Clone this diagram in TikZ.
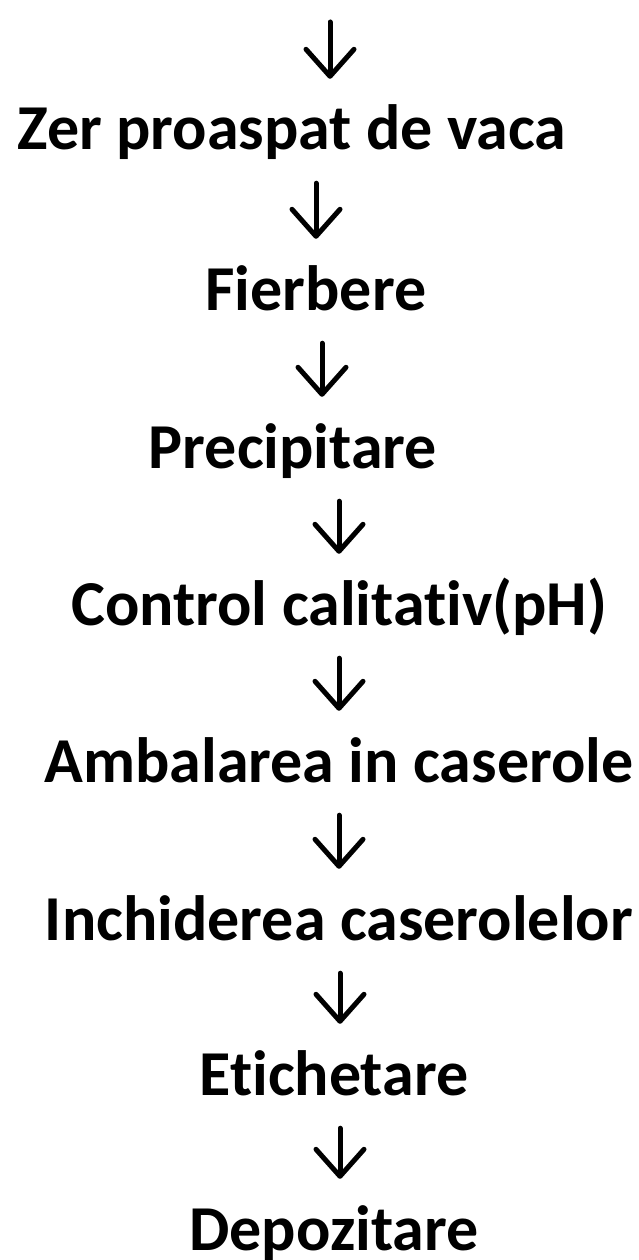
\documentclass[tikz,border=0pt]{standalone}
\usepackage{fontspec}
\setmainfont{Carlito}[RawFeature={-liga}]
\usepackage{tikz}
\usetikzlibrary{arrows.meta, positioning}

\begin{document}
\begin{tikzpicture}[
  x=1pt, y=1pt,
  stepbox/.style={anchor=base, inner sep=0pt, text height=44pt, text depth=14pt,
    font=\fontsize{64}{64}\selectfont\bfseries},
  flow/.style={-{Straight Barb[length=27pt, width=48pt, round]}, line width=5pt,
    line cap=round, shorten <=19pt, shorten >=27pt},
]
  \useasboundingbox (0,0) rectangle (639,-1260);
  \coordinate (top) at (330,-3);
  \node[stepbox] (zer)  at (292,-150)  {Zer proaspat de vaca};
  \node[stepbox] (fier) at (316,-310)  {Fierbere};
  \node[stepbox] (prec) at (293,-468)  {Precipitare};
  \node[stepbox] (ctrl) at (339,-625)  {Control calitativ(pH)};
  \node[stepbox] (amb)  at (339,-782)  {Ambalarea in caserole};
  \node[stepbox] (inch) at (339,-940)  {Inchiderea caserolelor};
  \node[stepbox] (etic) at (334,-1095) {Etichetare};
  \node[stepbox] (dep)  at (334,-1250) {Depozitare};
  % arrows between the steps
  \draw[flow] (top) -- (top |- zer.north);
  \draw[flow] (zer.south -| fier.north) -- (fier.north);
  \draw[flow] (fier.south) ++(6,0) coordinate (f2) -- (f2 |- prec.north);
  \draw[flow] (prec.south -| ctrl.north) -- (ctrl.north);
  \draw[flow] (ctrl.south) -- (amb.north);
  \draw[flow] (amb.south) -- (inch.north);
  \draw[flow] (inch.south) ++(1,0) coordinate (i2) -- (i2 |- etic.north);
  \draw[flow] (etic.south) ++(6,0) coordinate (e2) -- (e2 |- dep.north);
\end{tikzpicture}
\end{document}
